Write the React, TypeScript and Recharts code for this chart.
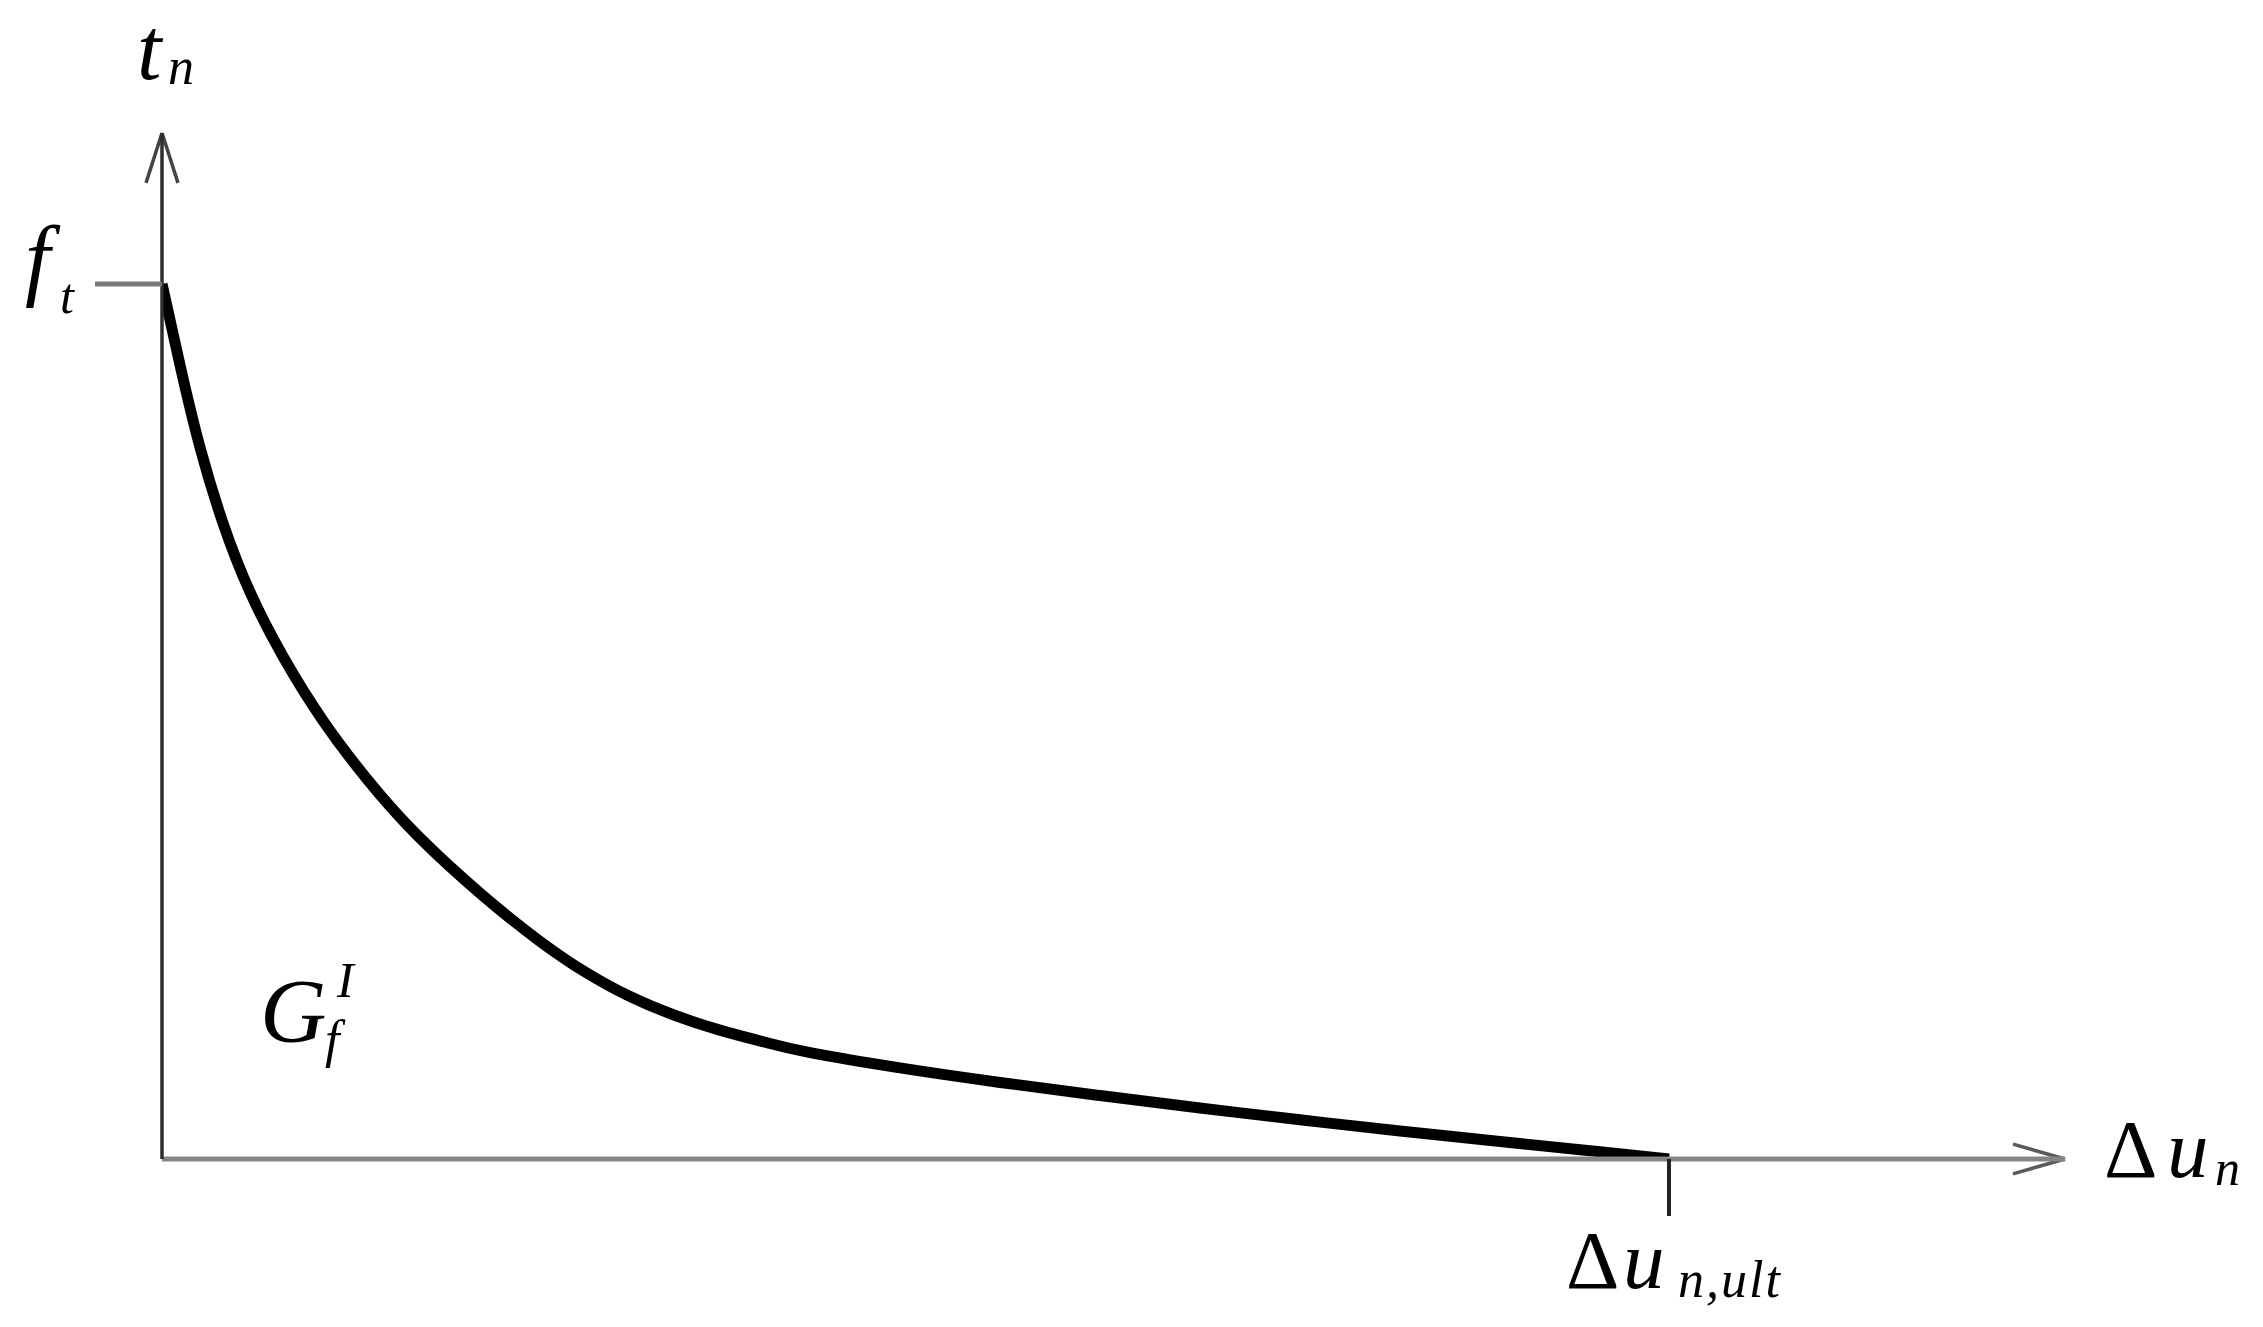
import React from "react";
import {
  LineChart,
  Line,
  XAxis,
  YAxis,
  ReferenceLine,
  ReferenceDot
} from "recharts";

/* ---------- DATA (normalised: du / du_ult , tn / ft) ---------- */

const du = [
  0, 0.0126, 0.0252, 0.0405, 0.0584, 0.0803, 0.1068, 0.136, 0.1692, 0.213,
  0.2508, 0.2807, 0.3099, 0.3397, 0.3696, 0.3995, 0.4293, 0.4897, 0.5561,
  0.6224, 0.6888, 0.7551, 0.8215, 0.8879, 0.9542, 1.0
];

const tn = [
  1.0, 0.9024, 0.8134, 0.7266, 0.6479, 0.5743, 0.5011, 0.4343, 0.3703, 0.3009,
  0.2488, 0.2138, 0.1862, 0.1646, 0.1476, 0.1337, 0.1218, 0.1041, 0.0875,
  0.0725, 0.0583, 0.0448, 0.032, 0.0199, 0.0082, 0
];

const xTicks = [1];
const yTicks = [1];

/* ---------- LAYOUT ---------- */

const W = 2263;
const H = 1327;
const X_MAX = 1.2628;
const Y_MAX = 1.1726;

const FONT = "'Liberation Serif', 'Times New Roman', 'DejaVu Serif', serif";

const data = du.map((x, i) => ({ x, y: tn[i] }));

/* ---------- TICK LABELS ---------- */

function UltTick({ x, y }: any) {
  const base = y + 72;
  return (
    <text fontFamily={FONT} fill="#000" x={x - 103} y={base}>
      <tspan x={x - 103} fontSize={83}>{"\u0394"}</tspan>
      <tspan x={x - 46} fontSize={83} fontStyle="italic">u</tspan>
      <tspan x={x + 9} y={base + 9} fontSize={52} fontStyle="italic" letterSpacing={2}>
        n,ult
      </tspan>
    </text>
  );
}

function FtTick({ x, y }: any) {
  const base = y + 5;
  return (
    <text fontFamily={FONT} fill="#000" fontStyle="italic" x={x - 70} y={base}>
      <tspan x={x - 70} fontSize={90}>f</tspan>
      <tspan x={x - 35} y={base + 24} fontSize={50}>t</tspan>
    </text>
  );
}

/* ---------- AXIS NAMES ---------- */

function XName({ viewBox }: any) {
  const x0 = viewBox.x + viewBox.width + 39;
  const base = viewBox.y + 18;
  return (
    <text fontFamily={FONT} fill="#000" x={x0} y={base}>
      <tspan x={x0} fontSize={83}>{"\u0394"}</tspan>
      <tspan x={x0 + 63} fontSize={83} fontStyle="italic">u</tspan>
      <tspan x={x0 + 111} y={base + 8} fontSize={50} fontStyle="italic">n</tspan>
    </text>
  );
}

function YName({ viewBox }: any) {
  const x0 = viewBox.x + viewBox.width - 25;
  const base = viewBox.y - 54;
  return (
    <text fontFamily={FONT} fill="#000" fontStyle="italic" x={x0} y={base}>
      <tspan x={x0} fontSize={88}>t</tspan>
      <tspan x={x0 + 31} y={base + 5} fontSize={52}>n</tspan>
    </text>
  );
}

function GLabel({ cx, cy }: any) {
  return (
    <text fontFamily={FONT} fill="#000" fontStyle="italic" x={cx} y={cy}>
      <tspan x={cx} fontSize={92}>G</tspan>
      <tspan x={cx + 77} y={cy - 45} fontSize={50}>I</tspan>
      <tspan x={cx + 65} y={cy + 15} fontSize={52}>f</tspan>
    </text>
  );
}

export default function App() {
  return (
    <div style={{ position: "absolute", left: 0, top: 0, width: W, height: H, background: "#fff" }}>
      <LineChart
        width={W}
        height={H}
        data={data}
        margin={{ top: 133, right: 198, left: 82, bottom: 108 }}
      >
        <XAxis
          type="number"
          dataKey="x"
          domain={[0, X_MAX]}
          ticks={xTicks}
          height={60}
          axisLine={{ stroke: "#858585", strokeWidth: 5 }}
          tickLine={{ stroke: "#222", strokeWidth: 4 }}
          tickSize={57}
          tickMargin={0}
          tick={<UltTick />}
          label={{ content: <XName /> }}
          allowDataOverflow
        />

        <YAxis
          type="number"
          domain={[0, Y_MAX]}
          ticks={yTicks}
          width={80}
          axisLine={{ stroke: "#2e2e2e", strokeWidth: 3.5 }}
          tickLine={{ stroke: "#7a7a7a", strokeWidth: 5 }}
          tickSize={67}
          tickMargin={0}
          tick={<FtTick />}
          label={{ content: <YName /> }}
          allowDataOverflow
        />

        {/* ARROW HEADS */}

        <ReferenceLine
          segment={[{ x: X_MAX - 0.0345, y: 0.017 }, { x: X_MAX, y: 0 }]}
          stroke="#5a5a5a"
          strokeWidth={3.5}
          ifOverflow="visible"
        />
        <ReferenceLine
          segment={[{ x: X_MAX - 0.0345, y: -0.017 }, { x: X_MAX, y: 0 }]}
          stroke="#5a5a5a"
          strokeWidth={3.5}
          ifOverflow="visible"
        />
        <ReferenceLine
          segment={[{ x: -0.0106, y: Y_MAX - 0.057 }, { x: 0, y: Y_MAX }]}
          stroke="#444"
          strokeWidth={3.5}
          ifOverflow="visible"
        />
        <ReferenceLine
          segment={[{ x: 0.0106, y: Y_MAX - 0.057 }, { x: 0, y: Y_MAX }]}
          stroke="#444"
          strokeWidth={3.5}
          ifOverflow="visible"
        />

        <Line
          type="natural"
          dataKey="y"
          stroke="#000"
          strokeWidth={11}
          dot={false}
          activeDot={false}
          isAnimationActive={false}
        />

        <ReferenceDot x={0.065} y={0.134} r={0} ifOverflow="visible" shape={<GLabel />} />
      </LineChart>
    </div>
  );
}
